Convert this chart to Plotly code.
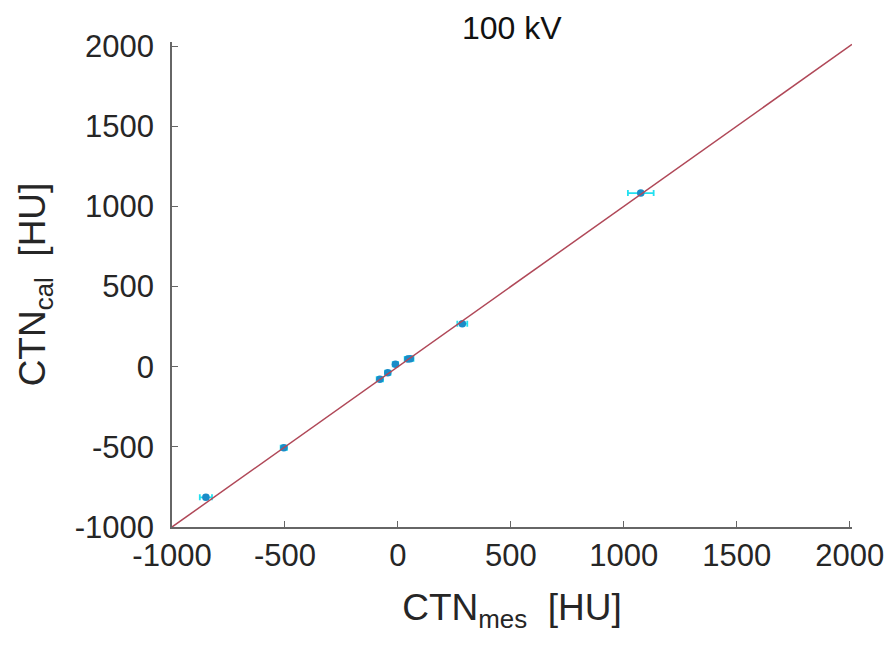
import plotly.graph_objects as go

# Data
ctn_mes = [-850, -505, -80, -45, -11, 44, 55, 285, 1075]
ctn_cal = [-815, -505, -78, -38, 15, 48, 50, 268, 1083]
err_mes = [27, 14, 14, 12, 12, 14, 14, 22, 57]
err_cal = [12, 12, 12, 12, 12, 12, 12, 12, 10]
line_x = [-1000, 2010]
line_y = [-1000, 2010]
x_ticks = [-1000, -500, 0, 500, 1000, 1500, 2000]
y_ticks = [-1000, -500, 0, 500, 1000, 1500, 2000]
x_labels = ["-1000", "-500", "0", "500", "1000", "1500", "2000"]
y_labels = ["-1000", "-500", "0", "500", "1000", "1500", "2000"]

fig = go.Figure()
fig.add_trace(go.Scatter(
    x=ctn_mes, y=ctn_cal, mode="markers",
    marker=dict(color="#1a8cc8", size=7.5),
    error_x=dict(type="data", array=err_mes, color="#22e0f0", thickness=1.8, width=3),
    error_y=dict(type="data", array=err_cal, color="#22e0f0", thickness=1.8, width=3),
    showlegend=False,
))
fig.add_trace(go.Scatter(
    x=line_x, y=line_y, mode="lines",
    line=dict(color="#b04858", width=1.5),
    showlegend=False,
))

font = "Liberation Sans, Arial, sans-serif"
fig.update_layout(
    width=887, height=646,
    margin=dict(l=172, r=35, t=42, b=119),
    plot_bgcolor="white", paper_bgcolor="white",
    font=dict(family=font, size=31, color="#262626"),
    title=dict(text="100 kV", x=0.577, xanchor="center", y=0.957, yanchor="middle",
               font=dict(size=32, color="#111111")),
    xaxis=dict(range=[-1000, 2010], tickvals=x_ticks, ticktext=x_labels,
               ticks="inside", ticklen=6, automargin=False,
               tickcolor="#666666", showline=True, linecolor="#666666", linewidth=1.5,
               showgrid=False, zeroline=False, mirror=False,
               title=dict(text="CTN<sub>mes</sub>  [HU]", standoff=22)),
    yaxis=dict(range=[-1000, 2025], tickvals=y_ticks, ticktext=y_labels,
               ticks="inside", ticklen=6, automargin=False, ticklabelstandoff=10,
               tickcolor="#666666", showline=True, linecolor="#666666", linewidth=1.5,
               showgrid=False, zeroline=False, mirror=False,
               title=dict(text="CTN<sub>cal</sub>  [HU]", standoff=18)),
)
fig.write_html("out.html")
